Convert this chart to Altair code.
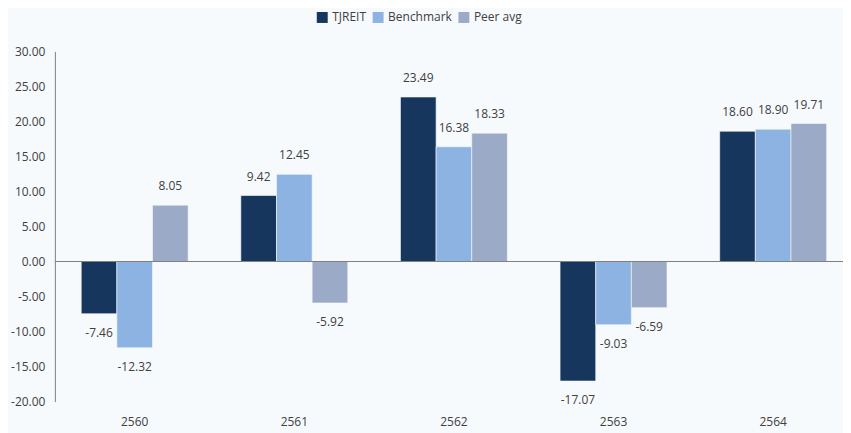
import altair as alt
import pandas as pd

years = ["2560", "2561", "2562", "2563", "2564"]
series = ["TJREIT", "Benchmark", "Peer avg"]
tjreit = [-7.46, 9.42, 23.49, -17.07, 18.60]
benchmark = [-12.32, 12.45, 16.38, -9.03, 18.90]
peer_avg = [8.05, -5.92, 18.33, -6.59, 19.71]
colors = ["#17365D", "#8DB3E2", "#9BAAC7"]
y_ticks = [-20, -15, -10, -5, 0, 5, 10, 15, 20, 25, 30]

rows = []
for name, vals in zip(series, [tjreit, benchmark, peer_avg]):
    for yr, v in zip(years, vals):
        rows.append({"year": yr, "series": name, "value": v, "label": f"{v:.2f}"})
df = pd.DataFrame(rows)

FONT = "Open Sans"
TXT = "#404040"

x_enc = alt.X("year:N", sort=years, title=None,
              scale=alt.Scale(range=[0, 800], paddingInner=0.33, paddingOuter=0.165),
              axis=alt.Axis(domain=False, ticks=False, labelAngle=0, labelPadding=15,
                            labelFontSize=12, labelColor=TXT, labelFont=FONT))
xoff = alt.XOffset("series:N", sort=series)
y_axis = alt.Axis(values=y_ticks, grid=False, ticks=False,
                  labelExpr="replace(format(datum.value, '.2f'), '\u2212', '-')",
                  labelOverlap=False, labelFlush=False,
                  domainColor="#808080", labelPadding=10,
                  labelFontSize=12, labelColor=TXT, labelFont=FONT)
y_scale = alt.Scale(domain=[-20, 30], nice=False)
y_enc = alt.Y("value:Q", title=None, scale=y_scale, axis=y_axis)

base = alt.Chart(df)

bars = base.mark_bar(stroke="#F7FAFD", strokeWidth=0.6).encode(
    x=x_enc, xOffset=xoff, y=y_enc,
    color=alt.Color("series:N", sort=series,
                    scale=alt.Scale(domain=series, range=colors),
                    legend=alt.Legend(title=None, orient="none", direction="horizontal",
                                      legendX=262, legendY=-40, symbolType="square",
                                      symbolSize=120, symbolStrokeWidth=0,
                                      labelFontSize=12, labelColor=TXT, labelFont=FONT,
                                      columnPadding=6, symbolOffset=0)),
)

zero = alt.Chart(pd.DataFrame({"value": [0]})).mark_rule(color="#808080", strokeWidth=1).encode(
    y=alt.Y("value:Q", title=None, scale=y_scale, axis=y_axis),
)

pos_text = base.transform_filter(alt.datum.value >= 0).mark_text(
    dy=-19, baseline="middle", fontSize=12, font=FONT, color=TXT
).encode(x=x_enc, xOffset=xoff, y=y_enc, text="label:N")

neg_text = base.transform_filter(alt.datum.value < 0).mark_text(
    dy=19, baseline="middle", fontSize=12, font=FONT, color=TXT
).encode(x=x_enc, xOffset=xoff, y=y_enc, text="label:N")

chart = alt.layer(bars, zero, pos_text, neg_text).properties(
    width=790, height=351,
    autosize=alt.AutoSizeParams(type="none"),
    padding={"left": 47, "top": 43, "right": 0, "bottom": 31},
    background="#F7FAFD",
).configure_view(stroke=None)

chart.save("out.html", embed_options={"renderer": "svg", "actions": False})
